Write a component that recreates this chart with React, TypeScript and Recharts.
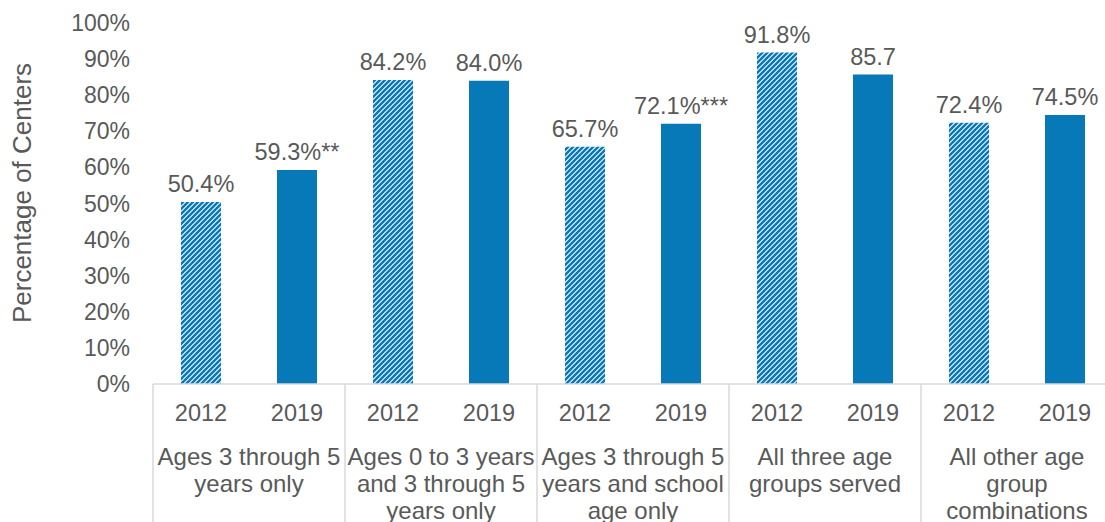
import { BarChart, Bar, XAxis, YAxis, LabelList, Cell } from 'recharts'

// data
const years = ['2012', '2019', '2012', '2019', '2012', '2019', '2012', '2019', '2012', '2019']
const groups = [
  'Ages 3 through 5\nyears only',
  'Ages 0 to 3 years\nand 3 through 5\nyears only',
  'Ages 3 through 5\nyears and school\nage only',
  'All three age\ngroups served',
  'All other age\ngroup\ncombinations',
]
const values = [50.4, 59.3, 84.2, 84.0, 65.7, 72.1, 91.8, 85.7, 72.4, 74.5]
const valueLabels = ['50.4%', '59.3%**', '84.2%', '84.0%', '65.7%', '72.1%***', '91.8%', '85.7', '72.4%', '74.5%']
const yTicks = [0, 10, 20, 30, 40, 50, 60, 70, 80, 90, 100]

const BLUE = '#0778b8'
const TEXT = '#595959'
const LINE = '#d9d9d9'
const FONT = '"Liberation Sans", Arial, sans-serif'

const CHART_W = 1113
const CHART_H = 522
const Y_AXIS_W = 153
const X_AXIS_H = 138
const PLOT_BOTTOM = CHART_H - X_AXIS_H
const SLOT = (CHART_W - Y_AXIS_W) / years.length

const rows = years.map((year, i) => ({
  year,
  group: groups[Math.floor(i / 2)],
  value: values[i],
  label: valueLabels[i],
}))

function YearTick(props: any) {
  const { x, index, payload } = props
  const groupIdx = Math.floor(index / 2)
  const lines = index % 2 === 0 ? groups[groupIdx].split('\n') : []
  return (
    <g>
      <text x={x} y={421} textAnchor="middle" fontSize={23.5} fill={TEXT} fontFamily={FONT}>
        {payload.value}
      </text>
      {index % 2 === 0 && (
        <line x1={x - SLOT / 2} x2={x - SLOT / 2} y1={PLOT_BOTTOM} y2={CHART_H} stroke={LINE} strokeWidth={1.5} />
      )}
      {index === years.length - 1 && (
        <line x1={x + SLOT / 2} x2={x + SLOT / 2} y1={PLOT_BOTTOM} y2={CHART_H} stroke={LINE} strokeWidth={1.5} />
      )}
      {lines.map((ln: string, k: number) => (
        <text
          key={k}
          x={x + SLOT / 2}
          y={465 + k * 27}
          textAnchor="middle"
          fontSize={24}
          fill={TEXT}
          fontFamily={FONT}
        >
          {ln}
        </text>
      ))}
    </g>
  )
}

function PctTick(props: any) {
  const { y, payload } = props
  return (
    <text x={130} y={y} dy={8} textAnchor="end" fontSize={23} fill={TEXT} fontFamily={FONT}>
      {payload.value}%
    </text>
  )
}

function ValueLabel(props: any) {
  const { x, y, width, value } = props
  return (
    <text x={x + width / 2} y={y - 10} textAnchor="middle" fontSize={23.5} fill={TEXT} fontFamily={FONT}>
      {value}
    </text>
  )
}

function AxisTitle() {
  return (
    <text
      x={31}
      y={193}
      transform="rotate(-90, 31, 193)"
      textAnchor="middle"
      fontSize={26}
      fill={TEXT}
      fontFamily={FONT}
    >
      Percentage of Centers
    </text>
  )
}

export default function App() {
  return (
    <div style={{ position: 'absolute', left: 0, top: 0, width: 1105, height: 522, overflow: 'hidden', background: '#fff' }}>
      <svg width={0} height={0} style={{ position: 'absolute' }}>
        <defs>
          <pattern id="hatch" patternUnits="userSpaceOnUse" width={5} height={5}>
            <rect width={5} height={5} fill="#fff" />
            <path d="M0,5 L5,0 M-1,1 L1,-1 M4,6 L6,4" stroke={BLUE} strokeWidth={2.5} />
          </pattern>
        </defs>
      </svg>
      <BarChart
        width={CHART_W}
        height={CHART_H}
        data={rows}
        margin={{ top: 23, right: 0, bottom: 0, left: 0 }}
        barSize={40}
      >
        <XAxis
          dataKey="year"
          height={X_AXIS_H}
          tickLine={false}
          axisLine={{ stroke: LINE, strokeWidth: 1.5 }}
          tick={<YearTick />}
          interval={0}
        />
        <YAxis
          width={Y_AXIS_W}
          domain={[0, 100]}
          ticks={yTicks}
          axisLine={false}
          tickLine={false}
          tick={<PctTick />}
          interval={0}
          label={{ content: () => <AxisTitle /> }}
        />
        <Bar dataKey="value" isAnimationActive={false}>
          {rows.map((r, i) => (
            <Cell key={i} fill={r.year === '2012' ? 'url(#hatch)' : BLUE} />
          ))}
          <LabelList dataKey="label" content={<ValueLabel />} />
        </Bar>
      </BarChart>
    </div>
  )
}
